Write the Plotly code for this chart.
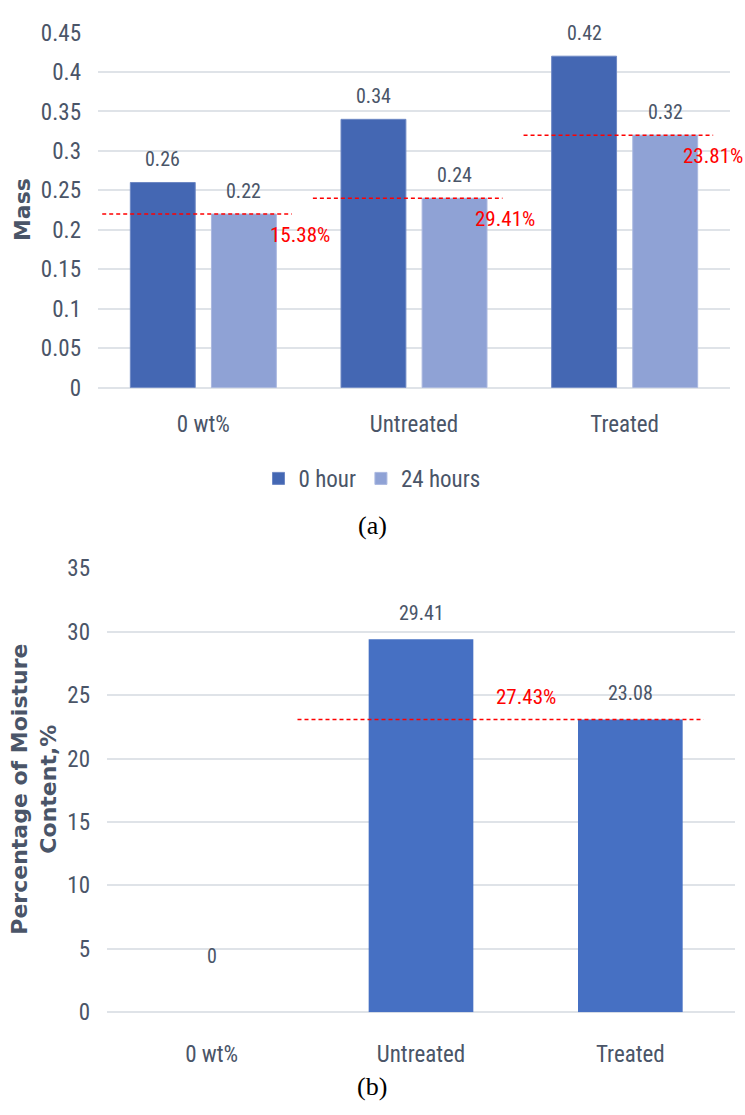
import plotly.graph_objects as go

# ---------------- data ----------------
categories = ["0 wt%", "Untreated", "Treated"]
mass_0h = [0.26, 0.34, 0.42]
mass_24h = [0.22, 0.24, 0.32]
loss_labels = ["15.38%", "29.41%", "23.81%"]

moisture = [0, 29.41, 23.08]
moisture_avg_label = "27.43%"

mass_ticks = [0, 0.05, 0.1, 0.15, 0.2, 0.25, 0.3, 0.35, 0.4, 0.45]
moisture_ticks = [0, 5, 10, 15, 20, 25, 30, 35]

series_names = ["0 hour", "24 hours"]

# ---------------- style ----------------
W, H = 745, 1115
TXT = "#4a5568"
GRID = "#dfe3e8"
NARROW = "Liberation Sans Narrow, Arial Narrow, Roboto Condensed, sans-serif"
DARK = "#4467b3"
LIGHT = "#8fa2d5"
BLUE_B = "#4670c3"
BARGAP_A = 0.23
BARGROUPGAP_A = 0.2

fig = go.Figure()

fig.add_trace(go.Bar(x=categories, y=mass_0h, name=series_names[0],
                     marker=dict(color=DARK, line=dict(color="#6e88c4", width=1)),
                     xaxis="x", yaxis="y"))
fig.add_trace(go.Bar(x=categories, y=mass_24h, name=series_names[1],
                     marker=dict(color=LIGHT, line=dict(color="#aab8e0", width=1)),
                     xaxis="x", yaxis="y"))
fig.add_trace(go.Bar(x=categories, y=moisture, name="moisture", showlegend=False,
                     width=0.5,
                     marker=dict(color=BLUE_B, line=dict(width=0)),
                     xaxis="x2", yaxis="y2"))

annotations = []
shapes = []

# group offset of bar centres (category units) derived from bargap
off = (1 - BARGAP_A) / 4
red_dx = [0.46, 0.43, 0.42]

for i, c in enumerate(categories):
    for val, sgn in ((mass_0h[i], -1), (mass_24h[i], 1)):
        annotations.append(dict(x=i + sgn * off, y=val, xref="x", yref="y",
                                text=f"{val:g}", showarrow=False, yanchor="bottom",
                                xanchor="center",
                                yshift=9, font=dict(family=NARROW, size=20, color=TXT)))
    # red dashed reference line at the 24h value
    shapes.append(dict(type="line", xref="x", yref="y", x0=i - 0.48, x1=i + 0.42,
                       y0=mass_24h[i], y1=mass_24h[i],
                       line=dict(color="red", width=1.5, dash="4px,3px")))
    annotations.append(dict(x=i + red_dx[i], y=mass_24h[i], xref="x", yref="y",
                            text=loss_labels[i], showarrow=False, yanchor="top",
                            xanchor="center",
                            yshift=-7, font=dict(family=NARROW, size=21, color="red")))

for i, c in enumerate(categories):
    annotations.append(dict(x=i, y=moisture[i], xref="x2", yref="y2",
                            text=f"{moisture[i]:g}", showarrow=False, yanchor="bottom",
                            xanchor="center",
                            yshift=12 if moisture[i] else 42,
                            font=dict(family=NARROW, size=20, color=TXT)))

shapes.append(dict(type="line", xref="x2", yref="y2", x0=0.41, x1=2.35,
                   y0=moisture[2], y1=moisture[2],
                   line=dict(color="red", width=1.5, dash="4px,3px")))
annotations.append(dict(x=1.5, y=moisture[2], xref="x2", yref="y2",
                        text=moisture_avg_label, showarrow=False, yanchor="bottom",
                        xanchor="center",
                        yshift=8, font=dict(family=NARROW, size=21, color="red")))

# axis titles
annotations.append(dict(x=22 / W, y=1 - 202 / H, xref="paper", yref="paper",
                        xanchor="center", yanchor="middle",
                        text="<b>Mass</b>", textangle=-90, showarrow=False,
                        font=dict(family="DejaVu Sans", size=22, color=TXT)))
annotations.append(dict(x=34 / W, y=1 - 796 / H, xref="paper", yref="paper",
                        xanchor="center", yanchor="middle",
                        text="<b>Percentage of Moisture<br>Content,%</b>", textangle=-90,
                        showarrow=False,
                        font=dict(family="DejaVu Sans", size=22, color=TXT)))
# panel captions
annotations.append(dict(x=372 / W, y=1 - 525 / H, xref="paper", yref="paper",
                        xanchor="center", yanchor="middle",
                        text="(a)", showarrow=False,
                        font=dict(family="Liberation Serif, DejaVu Serif, serif", size=26, color="black")))
annotations.append(dict(x=372 / W, y=1 - 1100 / H, xref="paper", yref="paper",
                        xanchor="center", yanchor="middle",
                        text="(b)", showarrow=False,
                        font=dict(family="Liberation Serif, DejaVu Serif, serif", size=26, color="black")))

axis_common = dict(showline=False, ticks="")

fig.update_layout(
    width=W, height=H,
    margin=dict(l=0, r=0, t=0, b=0),
    paper_bgcolor="white", plot_bgcolor="white",
    barmode="group", bargap=BARGAP_A, bargroupgap=BARGROUPGAP_A,
    font=dict(family=NARROW, color=TXT),
    xaxis=dict(domain=[98 / W, 730 / W], anchor="y", type="category",
               range=[-0.5, 2.5], showgrid=False, zeroline=False,
               tickfont=dict(size=23, color=TXT), ticklabelstandoff=20, **axis_common),
    yaxis=dict(domain=[1 - 384 / H, 1 - 20 / H], anchor="x", range=[0, 0.45],
               tickvals=mass_ticks, ticktext=[f"{t:g}" for t in mass_ticks],
               showgrid=True, gridcolor=GRID, gridwidth=2,
               zeroline=True, zerolinecolor=GRID, zerolinewidth=2,
               tickfont=dict(size=23, color=TXT), ticklabelstandoff=16, **axis_common),
    xaxis2=dict(domain=[107 / W, 735 / W], anchor="y2", type="category",
                range=[-0.5, 2.5], showgrid=False, zeroline=False,
                tickfont=dict(size=23, color=TXT), ticklabelstandoff=26, **axis_common),
    yaxis2=dict(domain=[1 - 1024 / H, 1 - 569 / H], anchor="x2", range=[0, 35],
                tickvals=moisture_ticks, ticktext=[f"{t:g}" for t in moisture_ticks],
                showgrid=True, gridcolor=GRID, gridwidth=2,
                zeroline=True, zerolinecolor=GRID, zerolinewidth=2,
                tickfont=dict(size=23, color=TXT), ticklabelstandoff=16, **axis_common),
    legend=dict(orientation="h", x=372 / W, xanchor="center", y=1 - 477 / H,
                yanchor="middle", font=dict(family=NARROW, size=23, color=TXT),
                itemwidth=30, traceorder="normal", bgcolor="rgba(0,0,0,0)"),
    annotations=annotations,
    shapes=shapes,
)

fig.write_html("out.html",
               config={"displayModeBar": False},
               post_script="document.body.style.margin='0';document.body.style.padding='0';")
